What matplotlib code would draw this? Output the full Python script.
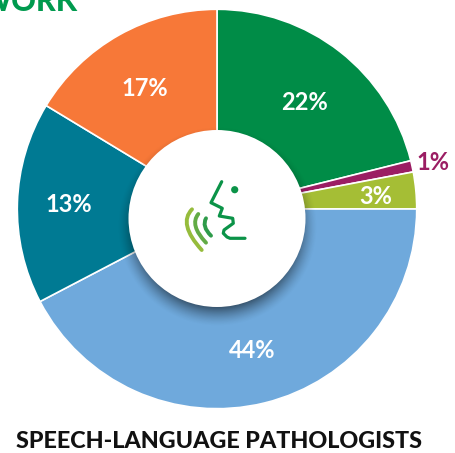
import numpy as np
import matplotlib
matplotlib.use('Agg')
import matplotlib.pyplot as plt
from matplotlib.patches import Circle, PathPatch
from matplotlib.path import Path

plt.rcParams['font.family'] = ['Lato', 'DejaVu Sans']

W, H = 455, 453

# sizes are the angles as drawn in the picture, they differ a bit from the printed labels
sizes = [76, 3.3, 10.7, 152.4, 58.8, 58.8]
labels = ['22%', '1%', '3%', '44%', '13%', '17%']
colors = ['#008C47', '#9B1D63', '#A5BE35', '#6FA9DC', '#007A93', '#F77838']
label_pos = [(305, 102), (433, 162), (376, 197), (252, 350), (69, 204), (145, 88)]
label_colors = ['white', '#9B1D63', 'white', 'white', 'white', 'white']

title = 'SPEECH-LANGUAGE PATHOLOGISTS'
cut_heading = 'WORK'

# icon outline, in pixels of the picture
profile = [(221.7, 181.7), (211, 202.7), (222.3, 208.3), (219.3, 216), (232.7, 218.3), (233.3, 223.3),
           (224, 230), (223.3, 233.3), (227, 237), (230, 238.3), (245, 238.3)]
eye = (234.7, 189.7)
waves = [((192, 209.3), (187.3, 226.7), (201.7, 250), '#96BC3C'),
         ((198.3, 214), (195.7, 226.7), (206, 242.7), '#62AB45'),
         ((206, 218.3), (205, 226.7), (211, 235.7), '#2E9B4A')]


def fy(y):
    return H - y


fig = plt.figure(figsize=(W / 100, H / 100), dpi=100)
ax = fig.add_axes([0, 0, 1, 1])

ax.pie(sizes, colors=colors, startangle=90, counterclock=False, center=(217, fy(209)), radius=199.7,
       wedgeprops={'edgecolor': 'white', 'linewidth': 1.2}, frame=True)

# soft shadow under the centre disc
xx, yy = np.meshgrid(np.arange(100, 335), np.arange(100, 335))
dist = np.hypot(xx - 217, yy - 226)
alpha = 0.6 * np.clip((100 - dist) / 22, 0, 1) ** 1.5
shadow = np.zeros(xx.shape + (4,))
shadow[..., 3] = alpha
ax.imshow(shadow, extent=(100, 335, fy(335), fy(100)), zorder=3, interpolation='bilinear')

ax.add_patch(Circle((217, fy(218.5)), 88.5, facecolor='white', edgecolor='none', zorder=4))

for text, pos, c in zip(labels, label_pos, label_colors):
    ax.text(pos[0], fy(pos[1]), text, color=c, fontsize=17, fontweight='bold',
            ha='center', va='center', zorder=5)

ax.text(218.5, fy(442), title, color='#111111', fontsize=16.8, fontweight='black',
        ha='center', va='center')
ax.text(78, fy(2), cut_heading, color='#009A4E', fontsize=22, fontweight='black', ha='right', va='center')

# speaking head icon
ax.plot([p[0] for p in profile], [fy(p[1]) for p in profile], color='#0B9348', lw=2.3,
        solid_capstyle='round', solid_joinstyle='round', zorder=6)
ax.add_patch(Circle((eye[0], fy(eye[1])), 3.6, facecolor='#0B9348', edgecolor='none', zorder=6))
for start, mid, end, c in waves:
    s, m, e = np.array(start), np.array(mid), np.array(end)
    ctrl = 2 * m - (s + e) / 2
    verts = [(s[0], fy(s[1])), (ctrl[0], fy(ctrl[1])), (e[0], fy(e[1]))]
    ax.add_patch(PathPatch(Path(verts, [Path.MOVETO, Path.CURVE3, Path.CURVE3]), facecolor='none',
                           edgecolor=c, lw=2.8, capstyle='round', zorder=6))

ax.set_xlim(0, W)
ax.set_ylim(0, H)
ax.set_aspect('auto')
ax.axis('off')

fig.savefig('out.png', dpi=100)
